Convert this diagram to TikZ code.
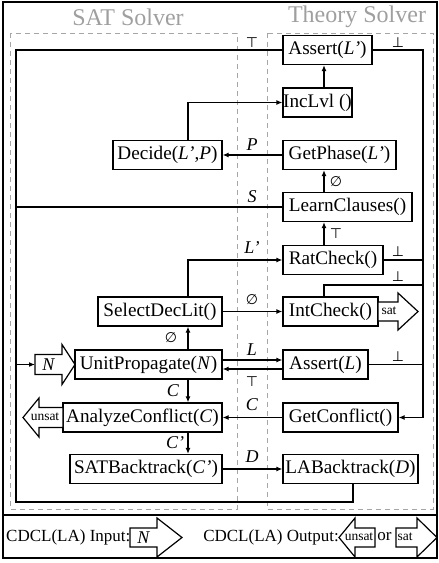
\documentclass[tikz,border=0pt]{standalone}
\usepackage{fontspec}
\setmainfont{Liberation Serif}
\newfontfamily\symfont{DejaVu Sans}
\usetikzlibrary{arrows.meta}
\begin{document}
\begin{tikzpicture}[x=1pt,y=-1pt,
  box/.style={draw,line width=1.2pt,minimum height=29pt,inner sep=0pt,font=\fontsize{19.2}{21}\selectfont},
  conn/.style={line width=1.8pt},
  arr/.style={conn,-{Latex[length=6pt,width=5pt]}},
  lbl/.style={font=\fontsize{18}{20}\selectfont\itshape,inner sep=0pt},
  sym/.style={font=\symfont\fontsize{14}{16}\selectfont,inner sep=0pt},
  fat/.style={draw,line width=1.2pt,fill=white,line join=miter},
  small/.style={font=\fontsize{13.5}{15}\selectfont,inner sep=0pt},
  grayframe/.style={draw=gray!70,line width=0.8pt,dash pattern=on 5pt off 4pt},
  title/.style={font=\fontsize{24}{26}\selectfont,text=gray!75},
  legend/.style={font=\fontsize{17}{19}\selectfont,inner sep=0pt}
]
\useasboundingbox (0,0) rectangle (439,563);
% frames
\draw[line width=1.3pt] (3,2) rectangle (437,515);
\draw[line width=1.3pt] (3,515) rectangle (437,558);
\draw[grayframe] (10,33) rectangle (237,509);
\draw[grayframe] (267,33) rectangle (433,509);
\node[title] at (128,17) {SAT Solver};
\node[title] at (357,17) {Theory Solver};

% helper coordinates
\coordinate (xT) at (324,0);
\coordinate (xS) at (188,0);
\coordinate (xR) at (423,0);
\coordinate (xL) at (16,0);
\coordinate (bot) at (353,502);
\coordinate (icup) at (324,285);
\coordinate (nin) at (35,364.5);

% boxes
\node[box,minimum width=89pt] (A2) at (327.5,50) {Assert(\textit{L’})};
\node[box,minimum width=69pt] (Inc) at (317.5,102.5) {IncLvl ()};
\node[box,minimum width=109pt] (Dec) at (167.5,155) {Decide(\textit{L’},\textit{P})};
\node[box,minimum width=113pt] (GP) at (339.5,155) {GetPhase(\textit{L’})};
\node[box,minimum width=129pt] (LC) at (347.5,207) {LearnClauses()};
\node[box,minimum width=100pt] (RC) at (333,260) {RatCheck()};
\node[box,minimum width=124pt] (SDL) at (160,311.5) {SelectDecLit()};
\node[box,minimum width=95pt] (IC) at (330.5,311.5) {IntCheck()};
\node[box,minimum width=147pt] (UP) at (148.5,364.5) {UnitPropagate(\textit{N})};
\node[box,minimum width=85pt] (AL) at (325.5,364.5) {Assert(\textit{L})};
\node[box,minimum width=159pt] (AC) at (142.5,417.5) {AnalyzeConflict(\textit{C})};
\node[box,minimum width=115pt] (GC) at (340.5,417.5) {GetConflict()};
\node[box,minimum width=152pt] (SB) at (146,469) {SATBacktrack(\textit{C’})};
\node[box,minimum width=135pt] (LB) at (350.5,469) {LABacktrack(\textit{D})};

% fat arrows in the diagram
\draw[fat] (35,354.5) -- (62,354.5) -- (62,344.5) -- (75,364.5) -- (62,384.5) -- (62,374.5) -- (35,374.5) -- cycle;
\node[lbl] (Nmain) at (48.5,364.5) {N};
\draw[fat] (63,407.5) -- (39,407.5) -- (39,398) -- (23,417.5) -- (39,437) -- (39,427.5) -- (63,427.5) -- cycle;
\node[small] (unsatmain) at (45,417) {unsat};
\draw[fat] (378,302) -- (398,302) -- (398,293) -- (418,311.5) -- (398,330) -- (398,321) -- (378,321) -- cycle;
\node[small] (satmain) at (389,311) {sat};

% connectors theory column
\draw[arr] (Inc.north -| xT) -- (A2.south -| xT);
\draw[arr] (LC.north -| xT) -- (GP.south -| xT);
\draw[arr] (RC.north -| xT) -- (LC.south -| xT);
\node[sym] at (336,182) {∅};
\node[sym] at (336,234) {⊤};

% SAT -> theory
\draw[arr] (Dec.north -| xS) |- (Inc.west);
\draw[arr] (GP.west) -- (Dec.east);
\node[lbl] at (252,145) {P};
\draw[arr] (SDL.north -| xS) |- (RC.west);
\node[lbl] at (252,248) {L’};
\draw[arr] (SDL.east) -- (IC.west);
\node[sym] at (252,300) {∅};
\draw[arr] (UP.north -| xS) -- (SDL.south -| xS);
\node[sym] at (171,338) {∅};
\draw[arr] ([yshift=4.5pt]UP.east) -- ([yshift=4.5pt]AL.west);
\node[lbl] at (252,350) {L};
\draw[arr] ([yshift=-4.5pt]AL.west) -- ([yshift=-4.5pt]UP.east);
\node[sym] at (252,382) {⊤};
\draw[arr] (UP.south -| xS) -- (AC.north -| xS);
\node[lbl] at (173,391) {C};
\draw[arr] (GC.west) -- (AC.east);
\node[lbl] at (252,405) {C};
\draw[arr] (AC.south -| xS) -- (SB.north -| xS);
\node[lbl] at (175,443) {C’};
\draw[arr] (SB.east) -- (LB.west);
\node[lbl] at (252,457) {D};

% right bus
\draw[arr] (A2.east) -- (A2.east -| xR) -- (GC.east -| xR) -- (GC.east);
\node[sym] at (398,43) {⊥};
\draw[conn] (RC.east) -- (RC.east -| xR);
\node[sym] at (398,252) {⊥};
\draw[conn] (IC.north -| xT) -- (icup) -- (icup -| xR);
\node[sym] at (398,277) {⊥};
\draw[conn] (AL.east) -- (AL.east -| xR);
\node[sym] at (398,357) {⊥};

% left loop
\draw[conn] (LB.south -| bot) -- (bot) -- (bot -| xL) -- (A2.west -| xL) -- (A2.west);
\node[sym] at (252,43) {⊤};
\draw[conn] (LC.west) -- (LC.west -| xL);
\node[lbl] at (252,197) {S};
\draw[arr] (nin -| xL) -- (nin);

% legend
\draw[fat] (130,528) -- (157,528) -- (157,518) -- (182,537.5) -- (157,557) -- (157,547) -- (130,547) -- cycle;
\node[lbl] (Nleg) at (143.5,537.5) {N};
\node[legend,anchor=west] (inlbl) at (6,537) {CDCL(LA) Input:};
\draw[fat] (375,528) -- (355,528) -- (355,518) -- (339,537.5) -- (355,557) -- (355,547) -- (375,547) -- cycle;
\node[small] (unsatleg) at (359,537) {unsat};
\node[legend,anchor=east] (outlbl) at (339,537) {CDCL(LA) Output:};
\node[legend] (orleg) at (384.5,537) {or};
\draw[fat] (396,528) -- (417,528) -- (417,518) -- (437,537.5) -- (417,557) -- (417,547) -- (396,547) -- cycle;
\node[small] (satleg) at (405,537) {sat};
\end{tikzpicture}
\end{document}
